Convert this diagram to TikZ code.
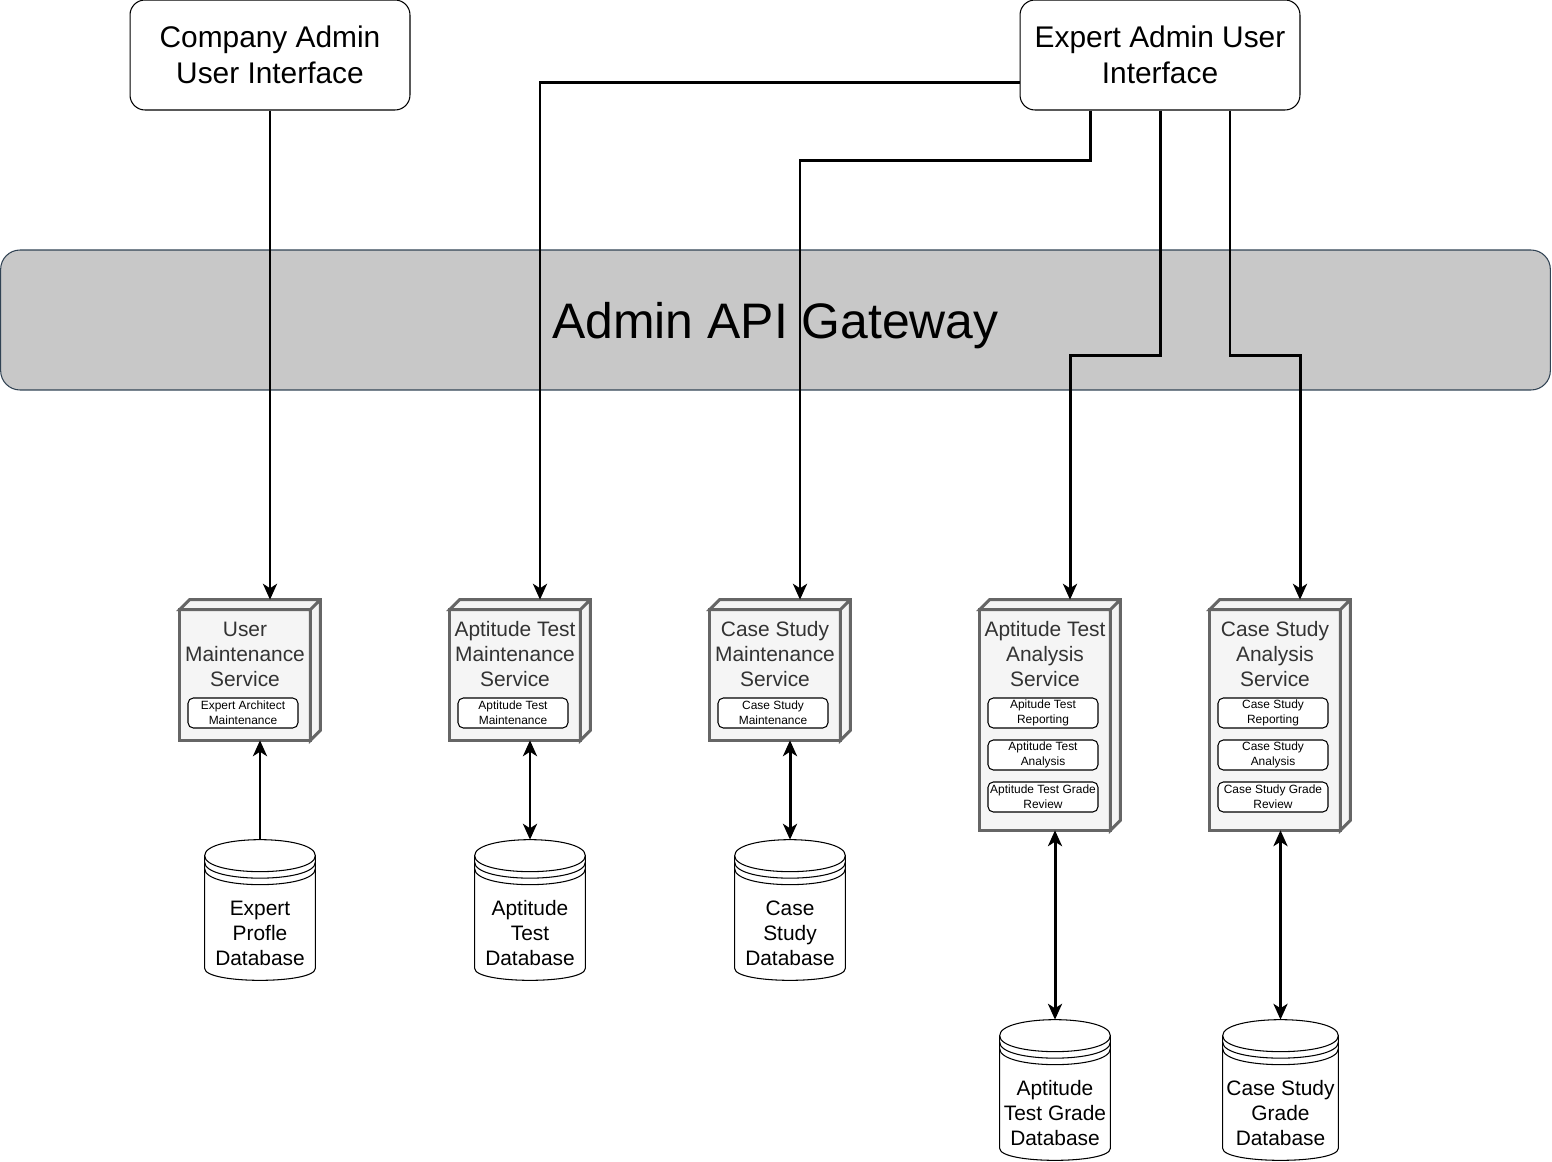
\documentclass[tikz,border=0pt]{standalone}
\usepackage{fontspec}
\setmainfont{Liberation Sans}
\usetikzlibrary{arrows.meta,positioning,calc}

\definecolor{gwfill}{HTML}{C8C8C8}
\definecolor{gwline}{HTML}{314354}
\definecolor{cubegray}{HTML}{666666}
\definecolor{cubefill}{HTML}{F5F5F5}
\definecolor{cubetext}{HTML}{333333}

\tikzset{
  ui/.style={draw, rounded corners=8.5pt, line width=0.6pt, minimum width=5.6cm,
    minimum height=2.2cm, align=center, font=\fontsize{17}{20.5}\selectfont},
  gateway/.style={draw=gwline, fill=gwfill, rounded corners=11pt, line width=0.6pt,
    minimum width=31cm, minimum height=2.8cm, text depth=0pt, font=\fontsize{28.4}{34}\selectfont},
  cubeline/.style={draw=cubegray, fill=cubefill, line width=1.7pt},
  service/.style={minimum width=2.8cm, minimum height=#1, inner sep=0pt,
    append after command={\pgfextra{
      \draw[cubeline] ($(\tikzlastnode.north west)+(0,10)$) rectangle ($(\tikzlastnode.south east)+(-10,0)$);
      \draw[cubeline] ($(\tikzlastnode.north west)+(0,10)$) -- ($(\tikzlastnode.north west)+(10,0)$)
        -- (\tikzlastnode.north east) -- ($(\tikzlastnode.south east)+(0,-10)$)
        -- ($(\tikzlastnode.south east)+(-10,0)$) -- ($(\tikzlastnode.north east)+(-10,10)$) -- cycle
        ($(\tikzlastnode.north east)+(-10,10)$) -- (\tikzlastnode.north east);
    }}},
  service/.default=2.8cm,
  title/.style={anchor=base, align=center, text=cubetext, inner sep=0pt,
    font=\fontsize{11.9}{14.2}\selectfont},
  task/.style={draw, rounded corners=3pt, line width=0.6pt, fill=white, minimum width=2.2cm,
    minimum height=0.6cm, inner sep=0pt, align=center, font=\fontsize{6.8}{8.5}\selectfont},
  dbline/.style={draw, fill=white, line width=0.6pt},
  db/.style={minimum width=#1, minimum height=2.8cm, inner sep=0pt,
    append after command={\pgfextra{
      \draw[dbline] ($(\tikzlastnode.north west)+(0,16)$) -- ($(\tikzlastnode.south west)+(0,-12)$)
        .. controls ($(\tikzlastnode.south west)+(0,4)$) and ($(\tikzlastnode.south east)+(0,4)$)
        .. ($(\tikzlastnode.south east)+(0,-12)$) -- ($(\tikzlastnode.north east)+(0,16)$)
        .. controls ($(\tikzlastnode.north east)+(0,-5.33)$) and ($(\tikzlastnode.north west)+(0,-5.33)$)
        .. ($(\tikzlastnode.north west)+(0,16)$) -- cycle;
      \draw[dbline, fill=none]
        ($(\tikzlastnode.north west)+(0,16)$) .. controls ($(\tikzlastnode.north west)+(0,37.33)$)
          and ($(\tikzlastnode.north east)+(0,37.33)$) .. ($(\tikzlastnode.north east)+(0,16)$)
        ($(\tikzlastnode.north west)+(0,22.5)$) .. controls ($(\tikzlastnode.north west)+(0,43.83)$)
          and ($(\tikzlastnode.north east)+(0,43.83)$) .. ($(\tikzlastnode.north east)+(0,22.5)$)
        ($(\tikzlastnode.north west)+(0,29)$) .. controls ($(\tikzlastnode.north west)+(0,50.33)$)
          and ($(\tikzlastnode.north east)+(0,50.33)$) .. ($(\tikzlastnode.north east)+(0,29)$);
    }}},
  db/.default=2.2cm,
  dbtext/.style={align=center, inner sep=0pt, font=\fontsize{11.9}{14.2}\selectfont},
  conn/.style={line width=1.7pt, -{Stealth[length=9pt, width=8pt, inset=2.5pt]}},
  biconn/.style={line width=1.7pt, {Stealth[length=9pt, width=8pt, inset=2.5pt]}-{Stealth[length=9pt, width=8pt, inset=2.5pt]}}
}

\begin{document}
\begin{tikzpicture}[x=0.02cm, y=-0.02cm]

  \useasboundingbox (0,0) rectangle (1552,1162);

  % gateway and user interfaces
  \node[gateway] (gw) at (775.5,320) {Admin API Gateway};
  \node[ui] (cadmin) at (270,55) {Company Admin\\User Interface};
  \node[ui] (eadmin) at (1160,55) {Expert Admin User\\Interface};

  % services
  \node[service] (ums)  at (250,670) {};
  \node[service] (atms) at (520,670) {};
  \node[service] (csms) at (780,670) {};
  \node[service=4.6cm] (atas) at (1050,715) {};
  \node[service=4.6cm] (csas) at (1280,715) {};

  \node[title] (umstitle)  at (245,686)  {User\\Maintenance\\Service};
  \node[title] (atmstitle) at (515,686)  {Aptitude Test\\Maintenance\\Service};
  \node[title] (csmstitle) at (775,686)  {Case Study\\Maintenance\\Service};
  \node[title] (atastitle) at (1045,686) {Aptitude Test\\Analysis\\Service};
  \node[title] (csastitle) at (1275,686) {Case Study\\Analysis\\Service};

  \node[task] (ea)  at (243,713)  {Expert Architect\\Maintenance};
  \node[task] (atm) at (513,713)  {Aptitude Test\\Maintenance};
  \node[task] (csm) at (773,713)  {Case Study\\Maintenance};
  \node[task] (atr) at (1043,713) {Apitude Test\\Reporting};
  \node[task] (ata) at (1043,755) {Aptitude Test\\Analysis};
  \node[task] (atg) at (1043,797) {Aptitude Test Grade\\Review};
  \node[task] (csr) at (1273,713) {Case Study\\Reporting};
  \node[task] (csa) at (1273,755) {Case Study\\Analysis};
  \node[task] (csg) at (1273,797) {Case Study Grade\\Review};

  % databases
  \node[db] (epdb)  at (260,910)  {};
  \node[db] (atdb)  at (530,910)  {};
  \node[db] (csdb)  at (790,910)  {};
  \node[db] (atgdb) at (1055,1090) {};
  \node[db=2.3cm] (csgdb) at (1280.5,1090) {};

  \node[dbtext] (epdbtext)  at ([yshift=-0.46cm]epdb.center)  {Expert\\Profle\\Database};
  \node[dbtext] (atdbtext)  at ([yshift=-0.46cm]atdb.center)  {Aptitude\\Test\\Database};
  \node[dbtext] (csdbtext)  at ([yshift=-0.46cm]csdb.center)  {Case\\Study\\Database};
  \node[dbtext] (atgdbtext) at ([yshift=-0.46cm]atgdb.center) {Aptitude\\Test Grade\\Database};
  \node[dbtext] (csgdbtext) at ([yshift=-0.46cm]csgdb.center) {Case Study\\Grade\\Database};

  % connectors
  \draw[conn] (cadmin.south) -- (cadmin.south |- ums.north);
  \draw[conn] ([yshift=-0.56cm]eadmin.west) -| ([xshift=0.4cm]atms.north);
  \draw[conn] ([xshift=-1.4cm]eadmin.south) -- ++(0,-1cm) -| ([xshift=0.4cm]csms.north);
  \draw[conn] (eadmin.south) -- ++(0,-4.9cm) -| ([xshift=0.4cm]atas.north);
  \draw[conn] ([xshift=1.4cm]eadmin.south) -- ++(0,-4.9cm) -| ([xshift=0.4cm]csas.north);

  \draw[conn] (epdb.north) -- (epdb.north |- ums.south);
  \draw[biconn] (atdb.north) -- (atdb.north |- atms.south);
  \draw[biconn] (csdb.north) -- (csdb.north |- csms.south);
  \draw[biconn] (atgdb.north) -- (atgdb.north |- atas.south);
  \draw[biconn] (csgdb.north) -- (csgdb.north |- csas.south);

\end{tikzpicture}
\end{document}
